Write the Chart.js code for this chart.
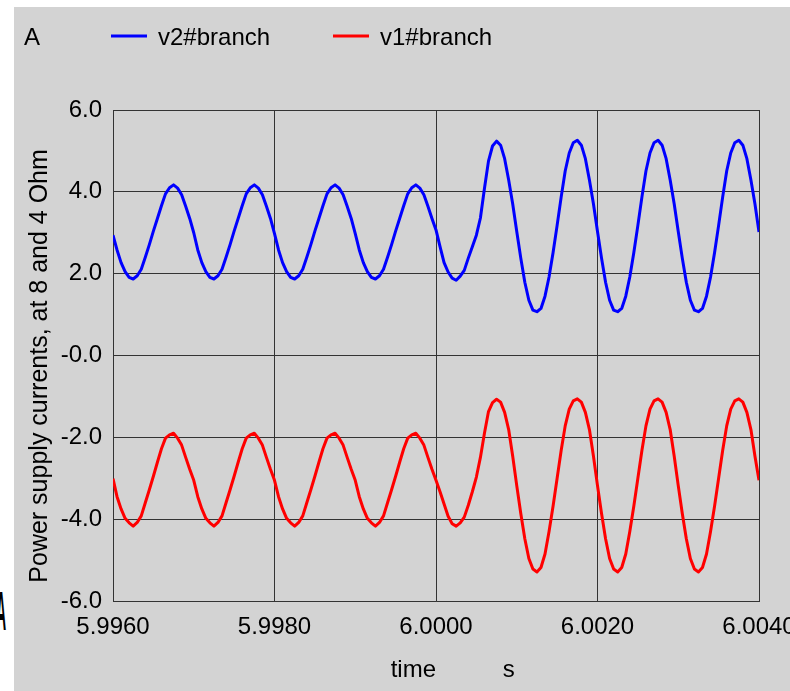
<!DOCTYPE html>
<html>
<head>
<meta charset="utf-8">
<script src="https://cdn.jsdelivr.net/npm/chart.js@4.4.1/dist/chart.umd.min.js"></script>
<style>
  html, body { margin: 0; padding: 0; background: #fff; width: 790px; height: 691px; overflow: hidden; }
  #wrap { position: absolute; left: 14px; top: 7px; width: 776px; height: 684px; background: #d3d3d3; z-index: 1; }
  #cutA { position: absolute; left: -4px; top: 583px; font: bold 56px/56px "Liberation Sans", Arial, sans-serif;
          color: #000; transform: scaleX(0.25); transform-origin: left top; z-index: 0; }
</style>
</head>
<body>
<div id="cutA">A</div>
<div id="wrap"><canvas id="chart" width="776" height="684"></canvas></div>
<script>
// sample times (s)
const timeS = [
  5.99600, 5.99605, 5.99610, 5.99615, 5.99620, 5.99625, 5.99630, 5.99635, 5.99640, 5.99645,
  5.99650, 5.99655, 5.99660, 5.99665, 5.99670, 5.99675, 5.99680, 5.99685, 5.99690, 5.99695,
  5.99700, 5.99705, 5.99710, 5.99715, 5.99720, 5.99725, 5.99730, 5.99735, 5.99740, 5.99745,
  5.99750, 5.99755, 5.99760, 5.99765, 5.99770, 5.99775, 5.99780, 5.99785, 5.99790, 5.99795,
  5.99800, 5.99805, 5.99810, 5.99815, 5.99820, 5.99825, 5.99830, 5.99835, 5.99840, 5.99845,
  5.99850, 5.99855, 5.99860, 5.99865, 5.99870, 5.99875, 5.99880, 5.99885, 5.99890, 5.99895,
  5.99900, 5.99905, 5.99910, 5.99915, 5.99920, 5.99925, 5.99930, 5.99935, 5.99940, 5.99945,
  5.99950, 5.99955, 5.99960, 5.99965, 5.99970, 5.99975, 5.99980, 5.99985, 5.99990, 5.99995,
  6.00000, 6.00005, 6.00010, 6.00015, 6.00020, 6.00025, 6.00030, 6.00035, 6.00040, 6.00045,
  6.00050, 6.00055, 6.00060, 6.00065, 6.00070, 6.00075, 6.00080, 6.00085, 6.00090, 6.00095,
  6.00100, 6.00105, 6.00110, 6.00115, 6.00120, 6.00125, 6.00130, 6.00135, 6.00140, 6.00145,
  6.00150, 6.00155, 6.00160, 6.00165, 6.00170, 6.00175, 6.00180, 6.00185, 6.00190, 6.00195,
  6.00200, 6.00205, 6.00210, 6.00215, 6.00220, 6.00225, 6.00230, 6.00235, 6.00240, 6.00245,
  6.00250, 6.00255, 6.00260, 6.00265, 6.00270, 6.00275, 6.00280, 6.00285, 6.00290, 6.00295,
  6.00300, 6.00305, 6.00310, 6.00315, 6.00320, 6.00325, 6.00330, 6.00335, 6.00340, 6.00345,
  6.00350, 6.00355, 6.00360, 6.00365, 6.00370, 6.00375, 6.00380, 6.00385, 6.00390, 6.00395,
  6.00400
];

// v2#branch (A)
const v2Branch = [
  2.94, 2.58, 2.27, 2.05, 1.91, 1.87, 1.95, 2.11, 2.40, 2.71, 3.04, 3.35, 3.66, 3.95, 4.10, 4.17, 4.09, 3.93, 3.65, 3.35,
  3.00, 2.58, 2.27, 2.05, 1.91, 1.87, 1.95, 2.11, 2.40, 2.71, 3.04, 3.35, 3.66, 3.95, 4.10, 4.17, 4.09, 3.93, 3.65, 3.35,
  2.98, 2.58, 2.27, 2.05, 1.91, 1.87, 1.95, 2.11, 2.40, 2.71, 3.04, 3.35, 3.66, 3.95, 4.10, 4.17, 4.09, 3.93, 3.65, 3.35,
  2.98, 2.58, 2.27, 2.05, 1.91, 1.87, 1.95, 2.11, 2.40, 2.71, 3.04, 3.35, 3.66, 3.95, 4.10, 4.17, 4.09, 3.93, 3.65, 3.35,
  3.07, 2.66, 2.27, 2.04, 1.89, 1.84, 1.94, 2.08, 2.38, 2.66, 2.94, 3.36, 4.08, 4.75, 5.12, 5.24,
  5.14, 4.81, 4.29, 3.70, 3.03, 2.38, 1.79, 1.35, 1.11,
  1.07, 1.15, 1.45, 1.92, 2.52, 3.18, 3.87, 4.51, 4.95, 5.20, 5.26, 5.14, 4.81, 4.29, 3.70, 3.03, 2.38, 1.79, 1.35, 1.11,
  1.07, 1.15, 1.45, 1.92, 2.52, 3.18, 3.87, 4.51, 4.95, 5.20, 5.26, 5.14, 4.81, 4.29, 3.70, 3.03, 2.38, 1.79, 1.35, 1.11,
  1.07, 1.15, 1.45, 1.92, 2.52, 3.18, 3.87, 4.51, 4.95, 5.20, 5.26, 5.14, 4.81, 4.29, 3.70, 3.02
];

// v1#branch (A)
const v1Branch = [
  -3.01, -3.45, -3.75, -3.98, -4.09, -4.17, -4.08, -3.92, -3.60, -3.28, -2.95, -2.61, -2.28, -2.02, -1.94, -1.90, -2.02, -2.19, -2.49, -2.78,
  -3.05, -3.45, -3.75, -3.98, -4.09, -4.17, -4.08, -3.92, -3.60, -3.28, -2.95, -2.61, -2.28, -2.02, -1.94, -1.90, -2.02, -2.19, -2.49, -2.78,
  -3.05, -3.45, -3.75, -3.98, -4.09, -4.17, -4.08, -3.92, -3.60, -3.28, -2.95, -2.61, -2.28, -2.02, -1.94, -1.90, -2.02, -2.19, -2.49, -2.78,
  -3.05, -3.45, -3.75, -3.98, -4.09, -4.17, -4.08, -3.92, -3.60, -3.28, -2.95, -2.61, -2.28, -2.02, -1.94, -1.90, -2.02, -2.19, -2.49, -2.78,
  -3.05, -3.33, -3.63, -3.93, -4.11, -4.17, -4.09, -3.95, -3.66, -3.33, -2.97, -2.49, -1.90, -1.37, -1.15, -1.07,
  -1.14, -1.39, -1.81, -2.46, -3.18, -3.86, -4.48, -4.96, -5.22,
  -5.29, -5.18, -4.85, -4.30, -3.68, -3.00, -2.32, -1.72, -1.31, -1.11, -1.06, -1.14, -1.39, -1.81, -2.46, -3.18, -3.86, -4.48, -4.96, -5.22,
  -5.29, -5.18, -4.85, -4.30, -3.68, -3.00, -2.32, -1.72, -1.31, -1.11, -1.06, -1.14, -1.39, -1.81, -2.46, -3.18, -3.86, -4.48, -4.96, -5.22,
  -5.29, -5.18, -4.85, -4.30, -3.68, -3.00, -2.32, -1.72, -1.31, -1.11, -1.06, -1.14, -1.39, -1.81, -2.46, -3.05
];

const seriesLabels = ['v2#branch', 'v1#branch'];
const seriesColors = ['#0000ff', '#ff0000'];

const xTickValues = [5.996, 5.998, 6.000, 6.002, 6.004];
const xTickLabels = ['5.9960', '5.9980', '6.0000', '6.0020', '6.0040'];
const yTickValues = [-6, -4, -2, 0, 2, 4, 6];
const yTickLabels = ['-6.0', '-4.0', '-2.0', '-0.0', '2.0', '4.0', '6.0'];

const unitLabel = 'A';
const yTitle = 'Power supply currents, at 8 and 4 Ohm   ';
const xTitle = '     time          s';

const FONT = '"Liberation Sans", Arial, sans-serif';
const gridColor = '#333333';
const legendX = [97, 319];

// legend row + unit on top
const headerPlugin = {
  id: 'header',
  afterDraw(chart) {
    const ctx = chart.ctx;
    ctx.save();
    ctx.font = '24px ' + FONT;
    ctx.fillStyle = '#000';
    ctx.textBaseline = 'alphabetic';
    ctx.fillText(unitLabel, 10, 38);
    chart.data.datasets.forEach((ds, i) => {
      const x0 = legendX[i];
      ctx.strokeStyle = ds.borderColor;
      ctx.lineWidth = 3;
      ctx.beginPath();
      ctx.moveTo(x0, 29);
      ctx.lineTo(x0 + 36, 29);
      ctx.stroke();
      ctx.fillText(ds.label, x0 + 47, 38);
    });
    ctx.restore();
  }
};

const toPoints = vals => timeS.map((t, i) => ({ x: t, y: vals[i] }));

new Chart(document.getElementById('chart'), {
  type: 'line',
  data: {
    datasets: [
      { label: seriesLabels[0], data: toPoints(v2Branch), borderColor: seriesColors[0], borderWidth: 3,
        pointRadius: 0, tension: 0, borderJoinStyle: 'round', fill: false },
      { label: seriesLabels[1], data: toPoints(v1Branch), borderColor: seriesColors[1], borderWidth: 3,
        pointRadius: 0, tension: 0, borderJoinStyle: 'round', fill: false }
    ]
  },
  options: {
    responsive: false,
    animation: false,
    devicePixelRatio: 1,
    layout: { padding: { left: 0, right: 31, top: 103, bottom: 0 } },
    plugins: { legend: { display: false }, tooltip: { enabled: false } },
    scales: {
      x: {
        type: 'linear',
        min: 5.996,
        max: 6.004,
        afterBuildTicks: s => { s.ticks = xTickValues.map(v => ({ value: v })); },
        afterFit: s => { s.height = 90; s.paddingLeft = 0; s.paddingRight = 0; },
        grid: { color: gridColor, lineWidth: 1, drawTicks: false },
        border: { color: gridColor },
        ticks: {
          padding: 12,
          maxRotation: 0,
          autoSkip: false,
          color: '#000',
          font: { family: FONT, size: 24 },
          callback: (v, i) => xTickLabels[i]
        },
        title: { display: true, text: xTitle, color: '#000', font: { family: FONT, size: 24 },
                 padding: { top: 0, bottom: 6 } }
      },
      y: {
        min: -6,
        max: 6,
        afterBuildTicks: s => { s.ticks = yTickValues.map(v => ({ value: v })); },
        afterFit: s => { s.width = 99; },
        grid: { color: gridColor, lineWidth: 1, drawTicks: false },
        border: { color: gridColor },
        ticks: {
          padding: 11,
          color: '#000',
          font: { family: FONT, size: 24 },
          callback: (v, i) => yTickLabels[i]
        },
        title: { display: true, text: yTitle, color: '#000', font: { family: FONT, size: 25 },
                 padding: { top: 11, bottom: 0 } }
      }
    }
  },
  plugins: [headerPlugin]
});
</script>
</body>
</html>
